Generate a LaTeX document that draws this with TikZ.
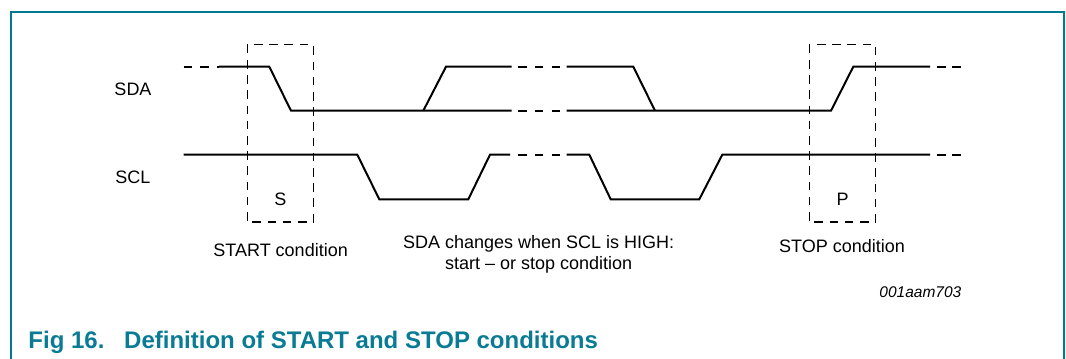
\documentclass[tikz,border=0pt]{standalone}
\usepackage{fontspec}
\setmainfont{Liberation Sans}
\usepackage{xcolor}
\definecolor{frameColor}{HTML}{007A93}
\definecolor{captionColor}{HTML}{0A7B95}
\definecolor{waveColor}{HTML}{000000}
\def\textStart{START condition}
\def\textStop{STOP condition}
\def\textChange{SDA changes when SCL is HIGH:\\start -- or stop condition}
\def\textCaption{Definition of START and STOP conditions}

\begin{document}
\begin{tikzpicture}[x=1bp,y=-1bp,
  wave/.style={color=waveColor, line width=2bp, line join=miter},
  wavegap/.style={color=waveColor, line width=2bp, dash pattern=on 8.4bp off 8.3bp},
  condbox/.style={line width=1.1bp, dash pattern=on 8.6bp off 6.6bp},
  sigtext/.style={font=\fontsize{18bp}{21bp}\selectfont, inner sep=0pt}]
\useasboundingbox (0, 0) rectangle (1066, 358);

% frame
\begin{scope}
\draw[color=frameColor, line width=1.5bp] (11, 360) -- (11, 12) -- (1064, 12) -- (1064, 360);
\end{scope}

% condition boxes
\begin{scope}
\draw[condbox] (247.3, 44.7) rectangle (313.3, 222);
\draw[condbox] (809.3, 44.7) rectangle (875.7, 222);
\end{scope}

% SDA layer
\begin{scope}
\draw[wavegap] (183.5, 66.7) -- (219, 66.7);
\draw[wave] (219, 66.7) -- (269.3, 66.7) -- (291, 110.7) -- (511.7, 110.7);
\draw[wave] (423.3, 110.7) -- (446, 66.7) -- (511.7, 66.7);
\draw[wavegap] (518.3, 66.7) -- (560, 66.7);
\draw[wavegap] (518.3, 110.7) -- (560, 110.7);
\draw[wave] (566.7, 66.7) -- (633.3, 66.7) -- (655, 110.7);
\draw[wave] (566.7, 110.7) -- (831, 110.7) -- (853.3, 66.7) -- (930, 66.7);
\draw[wavegap, dash pattern=on 8.5bp off 6.5bp] (937, 66.7) -- (961, 66.7);
\end{scope}

% SCL layer
\begin{scope}
\draw[wave] (183.5, 154.7) -- (357.3, 154.7) -- (379.3, 199.3) -- (468.3, 199.3)
-- (490, 154.7) -- (510, 154.7);
\draw[wavegap] (518.3, 154.7) -- (560, 154.7);
\draw[wave] (566.7, 154.7) -- (589.3, 154.7) -- (610.7, 199.3) -- (699.3, 199.3)
-- (722.3, 154.7) -- (930, 154.7);
\draw[wavegap, dash pattern=on 8.5bp off 6.5bp] (937, 154.7) -- (961, 154.7);
\end{scope}

% label layer
\begin{scope}
\node[sigtext] (sda) at (133, 89) {SDA};
\node[sigtext] (scl) at (133, 177) {SCL};
\node[sigtext] (start) at (280.5, 199) {S};
\node[sigtext] (stop) at (842.5, 199) {P};
\node[sigtext] (startText) at (280.6, 250) {\textStart};
\node[sigtext, align=center] (changeText) at (538.7, 254) {\textChange};
\node[sigtext] (stopText) at (842, 246) {\textStop};
\node[inner sep=0pt, anchor=east, font=\fontsize{15.5bp}{18bp}\selectfont\itshape]
(figId) at (961.5, 292) {001aam703};
\end{scope}

% caption
\begin{scope}
\node[inner sep=0pt, anchor=base west, text=captionColor,
font=\fontsize{24bp}{28bp}\selectfont\bfseries] (figNum) at (28.3, 348) {Fig 16.};
\node[inner sep=0pt, anchor=base west, text=captionColor,
font=\fontsize{24bp}{28bp}\selectfont\bfseries] (caption) at (124, 348) {\textCaption};
\end{scope}

\end{tikzpicture}
\end{document}
